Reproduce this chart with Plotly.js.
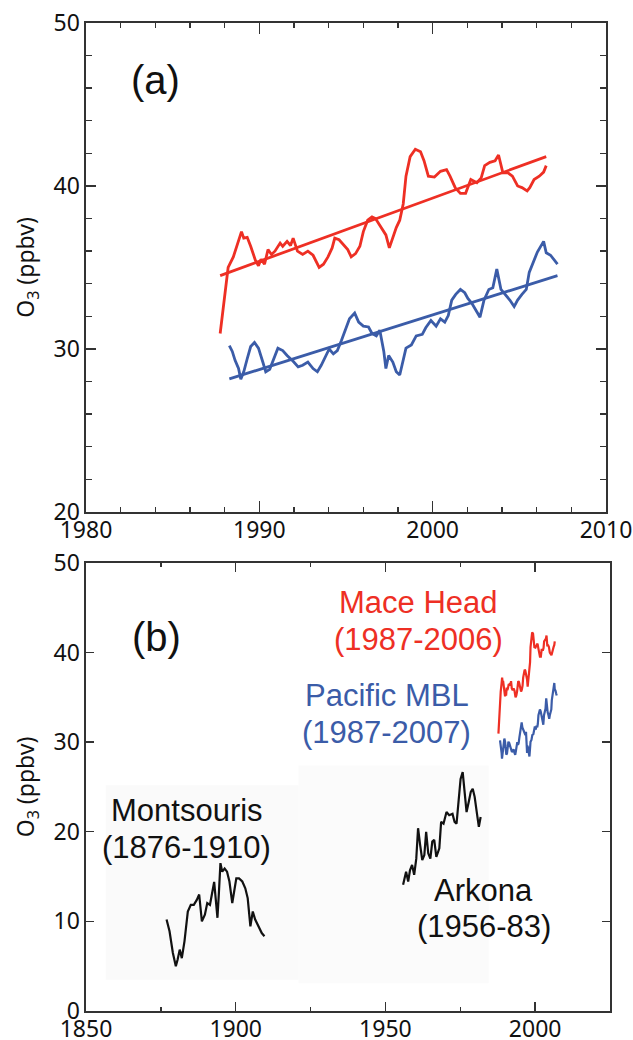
<!DOCTYPE html>
<html>
<head>
<meta charset="utf-8">
<script src="https://cdn.plot.ly/plotly-3.0.1.min.js"></script>
<style>html,body{margin:0;padding:0;background:#fff;}#chart{width:633px;height:1040px;}</style>
</head>
<body>
<div id="chart"></div>
<script>
// ---- Data ----
const maceYears = [1987.74,1987.97,1988.2,1988.5,1988.8,1988.97,1989.1,1989.3,1989.5,1989.77,1989.95,1990.1,1990.3,1990.5,1990.7,1990.9,1991.2,1991.35,1991.6,1991.8,1991.95,1992.2,1992.5,1992.8,1993.1,1993.45,1993.7,1993.96,1994.2,1994.35,1994.6,1994.85,1995.1,1995.3,1995.55,1995.8,1996.0,1996.25,1996.5,1996.7,1997.05,1997.3,1997.5,1997.7,1997.9,1998.1,1998.3,1998.46,1998.7,1999.0,1999.3,1999.5,1999.75,2000.1,2000.45,2000.8,2001.0,2001.3,2001.6,2001.9,2002.2,2002.55,2002.8,2003.0,2003.3,2003.6,2003.8,2004.05,2004.35,2004.6,2004.9,2005.15,2005.45,2005.6,2005.85,2006.15,2006.4,2006.55];
const maceO3 = [30.95,32.8,35.0,35.65,36.6,37.2,36.8,36.85,36.3,35.45,35.1,35.5,35.2,36.1,35.8,36.0,36.5,36.3,36.6,36.35,36.8,36.0,35.8,36.0,35.75,35.0,35.2,35.65,36.2,36.8,36.7,36.4,36.1,35.65,35.85,36.3,37.2,37.9,38.1,38.0,37.45,37.0,36.2,36.8,37.45,37.9,38.9,40.6,41.8,42.25,42.1,41.55,40.6,40.55,40.9,41.0,40.6,39.9,39.55,39.55,40.4,40.2,40.5,41.25,41.45,41.55,41.9,40.8,40.8,40.6,40.0,39.9,39.7,39.9,40.4,40.6,40.85,41.25];
const maceTrendYears = [1987.74, 2006.55];
const maceTrendO3 = [34.5, 41.8];

const pacYears = [1988.27,1988.44,1988.6,1988.8,1988.93,1989.1,1989.3,1989.5,1989.72,1989.95,1990.2,1990.37,1990.6,1990.85,1991.07,1991.35,1991.6,1991.95,1992.24,1992.5,1992.8,1993.1,1993.35,1993.57,1993.8,1994.03,1994.27,1994.5,1994.73,1994.97,1995.2,1995.5,1995.73,1996.0,1996.3,1996.5,1996.75,1996.95,1997.18,1997.3,1997.46,1997.7,1997.9,1998.1,1998.3,1998.46,1998.77,1999.05,1999.4,1999.6,1999.9,2000.2,2000.45,2000.7,2000.9,2001.1,2001.33,2001.6,2001.85,2002.03,2002.26,2002.5,2002.73,2002.96,2003.24,2003.47,2003.7,2003.94,2004.17,2004.45,2004.7,2004.9,2005.15,2005.4,2005.57,2005.8,2006.04,2006.4,2006.55,2006.8,2007.0,2007.2];
const pacO3 = [30.2,29.85,29.3,28.8,28.15,28.6,29.4,30.15,30.4,30.05,29.2,28.6,28.75,29.4,30.05,29.9,29.6,29.25,28.9,29.0,29.2,28.8,28.6,29.0,29.55,30.0,29.7,29.9,30.5,31.2,31.85,32.2,31.65,31.4,31.35,30.95,30.8,31.15,29.85,28.8,29.6,29.2,28.6,28.4,29.3,30.05,30.25,30.8,30.9,31.3,31.75,31.4,31.85,31.65,32.05,33.0,33.35,33.65,33.45,33.1,32.8,32.4,31.95,33.0,33.65,33.75,34.9,33.65,33.35,33.0,32.6,33.0,33.35,33.65,34.7,35.35,35.95,36.6,35.9,35.75,35.45,35.2];
const pacTrendYears = [1988.27, 2007.2];
const pacTrendO3 = [28.16, 34.5];

const montYears = [1876.9,1877.9,1879.0,1880.0,1880.6,1881.3,1882.0,1882.9,1884.0,1885.0,1886.0,1887.0,1887.8,1888.7,1889.7,1890.5,1891.4,1892.1,1892.8,1893.3,1893.9,1894.4,1894.9,1895.5,1896.3,1897.1,1897.9,1898.85,1899.5,1900.2,1901.1,1902.2,1903.2,1904.0,1904.9,1905.7,1906.5,1907.6,1908.7,1909.6];
const montO3 = [10.2,8.9,6.5,5.0,5.75,6.85,5.9,7.8,11.1,11.85,11.85,12.4,13.0,10.0,10.75,12.05,11.85,13.3,14.4,12.6,10.4,13.3,16.5,15.55,15.9,15.55,14.45,12.05,13.3,14.8,14.8,14.45,13.7,12.6,9.45,11.1,10.2,9.45,8.7,8.35];

const arkYears = [1955.9,1956.9,1957.6,1958.2,1958.9,1959.6,1960.3,1960.9,1961.6,1962.3,1963.0,1963.6,1964.3,1965.0,1965.65,1966.3,1967.0,1968.0,1968.6,1969.4,1970.4,1971.3,1972.4,1973.1,1973.75,1974.4,1975.1,1975.8,1976.45,1977.1,1977.8,1978.5,1979.15,1979.8,1980.5,1981.2,1981.8];
const arkO3 = [14.1,15.55,14.45,15.7,16.3,15.2,17.0,20.4,18.5,16.85,17.4,20.0,17.6,17.0,18.9,19.1,17.2,18.15,21.1,20.9,22.2,21.85,22.0,21.1,20.9,23.7,25.9,26.65,24.45,22.2,23.3,24.45,24.8,23.9,22.2,20.55,21.65];

const panelLabels = ['(a)', '(b)'];
const seriesNames = ['Mace Head', 'Pacific MBL', 'Montsouris', 'Arkona'];
const seriesPeriods = ['(1987-2006)', '(1987-2007)', '(1876-1910)', '(1956-83)'];
const yTitle = 'O<sub>3</sub> (ppbv)';

// ---- Styles ----
const RED = '#ee2f24', BLUE = '#3b5ca8', BLACK = '#111111';
const AX = '#333333';
const tickFont = {family: 'Noto Sans, Open Sans, sans-serif', size: 23, color: '#111'};
const titleFont = {family: 'Noto Sans, Open Sans, sans-serif', size: 23, color: '#111'};
const annFont = (c, s) => ({family: 'Liberation Sans, Arial, sans-serif', size: s, color: c});

const traces = [
  {x: maceYears, y: maceO3, mode: 'lines', line: {color: RED, width: 2.8}, xaxis: 'x', yaxis: 'y'},
  {x: maceTrendYears, y: maceTrendO3, mode: 'lines', line: {color: RED, width: 2.8}, xaxis: 'x', yaxis: 'y'},
  {x: pacYears, y: pacO3, mode: 'lines', line: {color: BLUE, width: 2.8}, xaxis: 'x', yaxis: 'y'},
  {x: pacTrendYears, y: pacTrendO3, mode: 'lines', line: {color: BLUE, width: 2.8}, xaxis: 'x', yaxis: 'y'},
  {x: maceYears, y: maceO3, mode: 'lines', line: {color: RED, width: 2.2}, xaxis: 'x2', yaxis: 'y2'},
  {x: pacYears, y: pacO3, mode: 'lines', line: {color: BLUE, width: 2.2}, xaxis: 'x2', yaxis: 'y2'},
  {x: montYears, y: montO3, mode: 'lines', line: {color: BLACK, width: 2.2}, xaxis: 'x2', yaxis: 'y2'},
  {x: arkYears, y: arkO3, mode: 'lines', line: {color: BLACK, width: 2.2}, xaxis: 'x2', yaxis: 'y2'}
];

const axCommon = {
  showgrid: false, zeroline: false, showline: true, linecolor: AX, linewidth: 1.6,
  mirror: 'ticks', ticks: 'inside', tickcolor: AX, tickwidth: 1.4,
  tickfont: tickFont, fixedrange: true
};

const layout = {
  width: 633, height: 1040,
  margin: {l: 86, r: 23, t: 23, b: 29},
  paper_bgcolor: '#fff', plot_bgcolor: 'rgba(0,0,0,0)',
  showlegend: false,
  xaxis: Object.assign({}, axCommon, {
    domain: [0, 0.9924], anchor: 'y', range: [1980, 2010], dtick: 10, tick0: 1980, ticklen: 11,
    ticklabelstandoff: -3,
    minor: {dtick: 2, ticklen: 5, ticks: 'inside', tickcolor: AX, tickwidth: 1.4}
  }),
  yaxis: Object.assign({}, axCommon, {
    domain: [0.5051, 1], anchor: 'x', range: [20, 50], dtick: 10, tick0: 20, ticklen: 10,
    minor: {dtick: 2, ticklen: 6, ticks: 'inside', tickcolor: AX, tickwidth: 1.4},
    title: {text: yTitle, font: titleFont, standoff: 12}
  }),
  xaxis2: Object.assign({}, axCommon, {
    domain: [0, 1], anchor: 'y2', range: [1850, 2025], dtick: 50, tick0: 1850, ticklen: 9,
    ticklabelstandoff: -3,
    minor: {dtick: 25, ticklen: 4, ticks: 'inside', tickcolor: AX, tickwidth: 1.4}
  }),
  yaxis2: Object.assign({}, axCommon, {
    domain: [0, 0.4535], anchor: 'x2', range: [0, 50], dtick: 10, tick0: 0, ticklen: 8,
    title: {text: yTitle, font: titleFont, standoff: 12}
  }),
  shapes: [
    {type: 'rect', xref: 'x2', yref: 'y2', x0: 1856.6, x1: 1921, y0: 3.5, y1: 25.2, fillcolor: '#fafafa', line: {width: 0}, layer: 'below'},
    {type: 'rect', xref: 'x2', yref: 'y2', x0: 1921, x1: 1984.5, y0: 3.1, y1: 27.4, fillcolor: '#fbfbfb', line: {width: 0}, layer: 'below'}
  ],
  annotations: [
    {text: panelLabels[0], xref: 'x', yref: 'y', x: 1984.0, y: 46.5, showarrow: false, font: annFont('#111', 40)},
    {text: panelLabels[1], xref: 'x2', yref: 'y2', x: 1873.6, y: 41.7, showarrow: false, font: annFont('#111', 40)},
    {text: seriesNames[0], xref: 'x2', yref: 'y2', x: 1960.9, y: 45.6, showarrow: false, font: annFont(RED, 31)},
    {text: seriesPeriods[0], xref: 'x2', yref: 'y2', x: 1960.9, y: 41.5, showarrow: false, font: annFont(RED, 31)},
    {text: seriesNames[1], xref: 'x2', yref: 'y2', x: 1950.4, y: 35.2, showarrow: false, font: annFont(BLUE, 31)},
    {text: seriesPeriods[1], xref: 'x2', yref: 'y2', x: 1950.4, y: 31.1, showarrow: false, font: annFont(BLUE, 31)},
    {text: seriesNames[2], xref: 'x2', yref: 'y2', x: 1883.7, y: 22.4, showarrow: false, font: annFont('#111', 31)},
    {text: seriesPeriods[2], xref: 'x2', yref: 'y2', x: 1883.7, y: 18.3, showarrow: false, font: annFont('#111', 31)},
    {text: seriesNames[3], xref: 'x2', yref: 'y2', x: 1982.8, y: 13.4, showarrow: false, font: annFont('#111', 31)},
    {text: seriesPeriods[3], xref: 'x2', yref: 'y2', x: 1982.8, y: 9.45, showarrow: false, font: annFont('#111', 31)}
  ]
};

Plotly.newPlot('chart', traces, layout, {displayModeBar: false, staticPlot: true});
</script>
</body>
</html>
